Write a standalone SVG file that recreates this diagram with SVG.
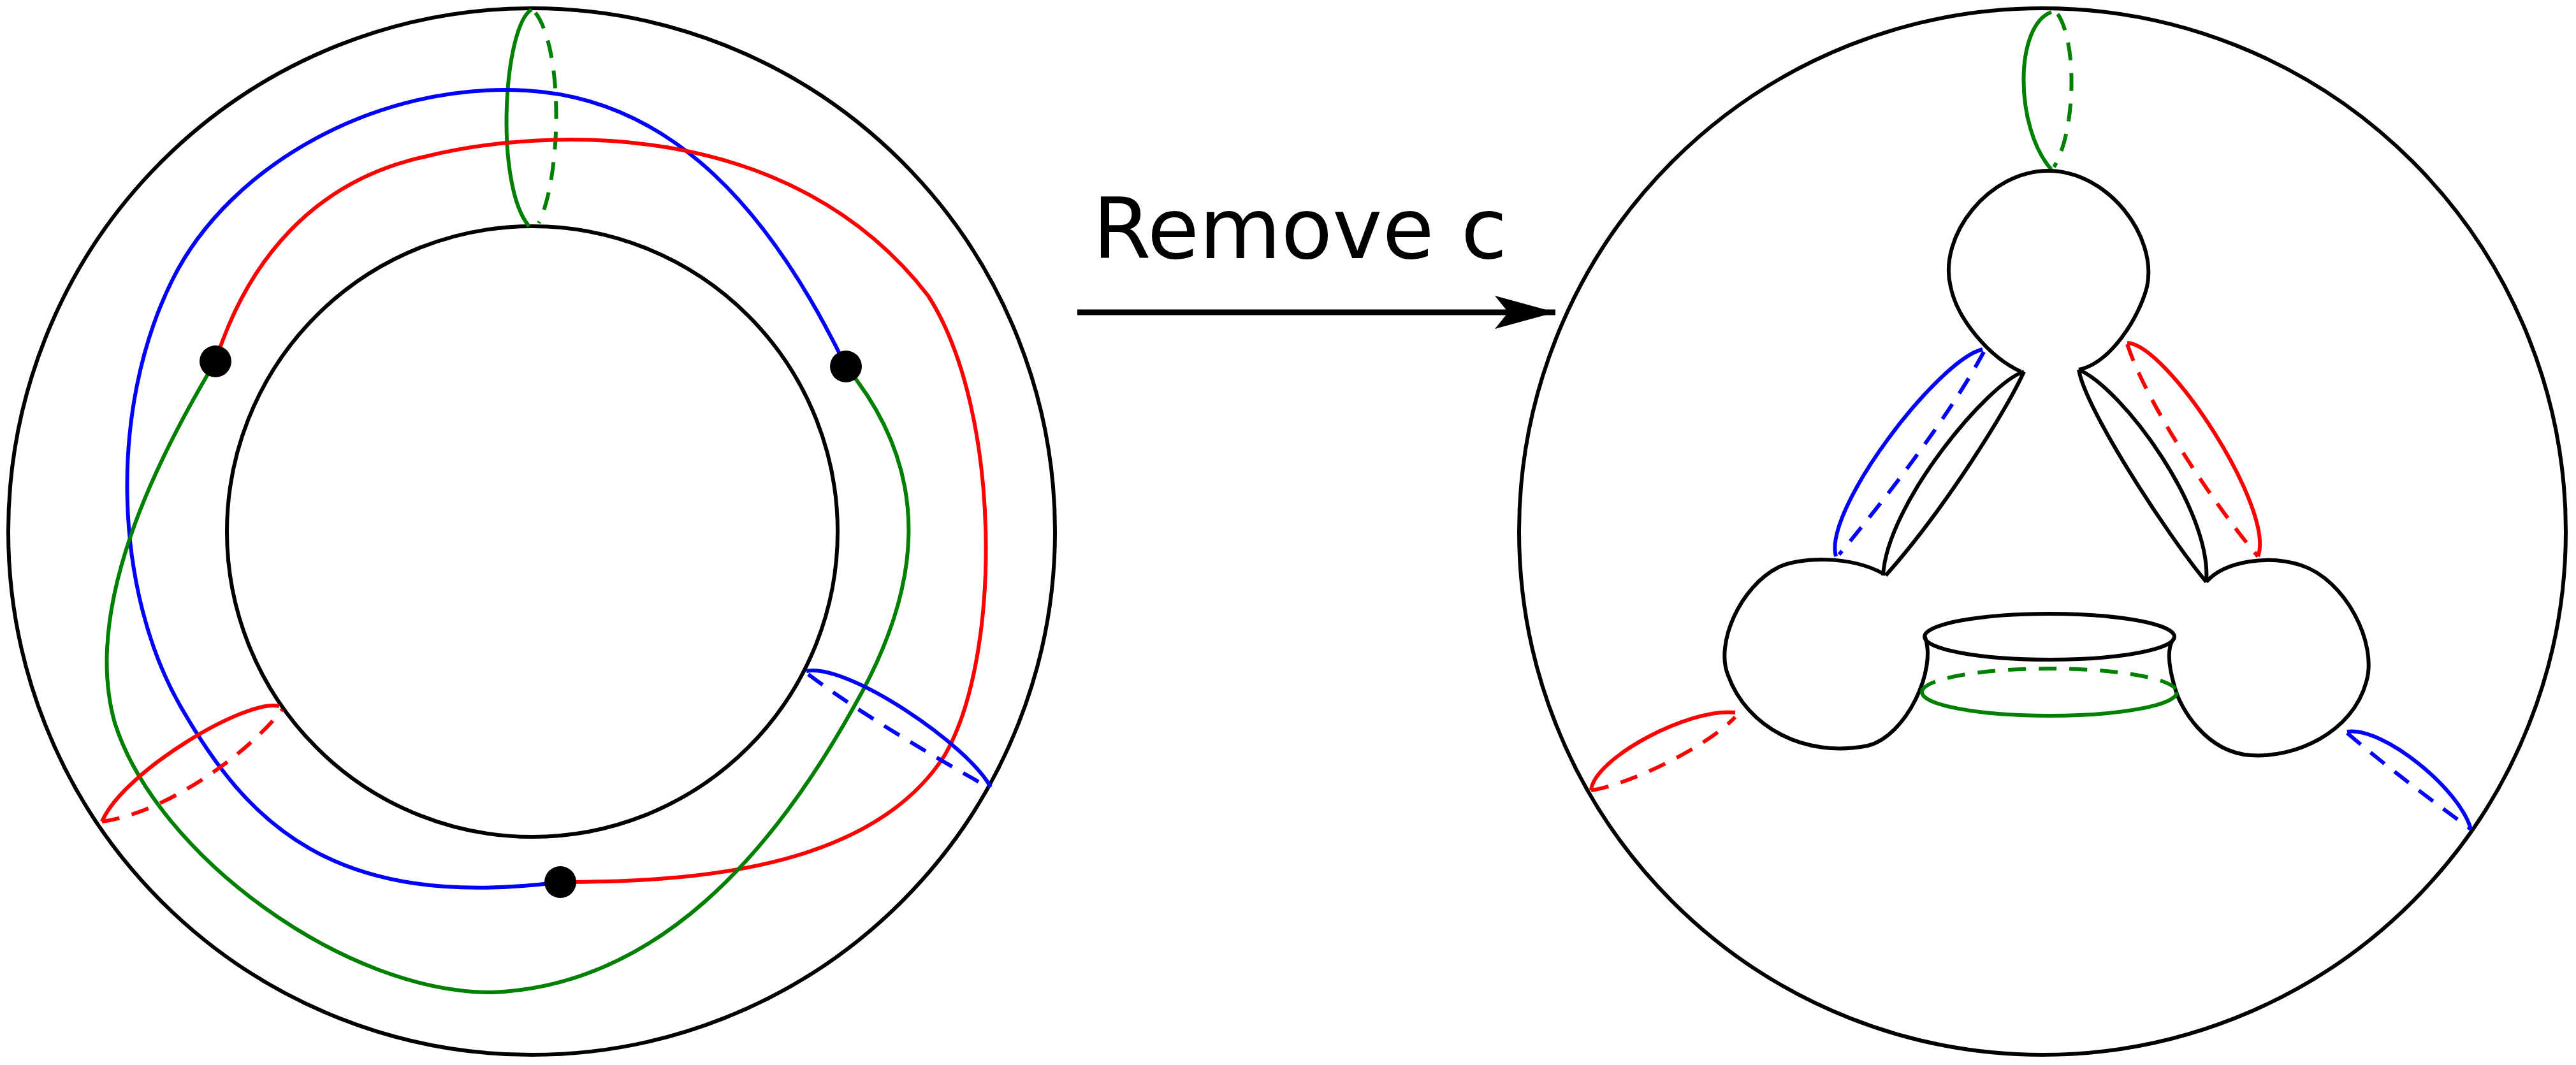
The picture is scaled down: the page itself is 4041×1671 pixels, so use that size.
<svg xmlns="http://www.w3.org/2000/svg" width="4041" height="1671" viewBox="0 0 4041 1671">
<style>
.k{fill:none;stroke:#000;stroke-width:6}
.s{fill:none;stroke-width:6}
.d{fill:none;stroke-width:6;stroke-dasharray:28 20}
.r{stroke:#f00}.g{stroke:#008000}.b{stroke:#00f}
.dot{fill:#000}
</style>
<defs><marker id="ah" markerUnits="userSpaceOnUse" markerWidth="100" markerHeight="60" refX="95" refY="30" orient="auto"><path d="M0,4 L95,30 L0,56 L21,30 Z" fill="#000"/></marker></defs>
<g id="left">
<circle class="k" cx="834" cy="834" r="821"/>
<circle class="k" cx="835" cy="834" r="479"/>
<path class="s g" d="M834,15 C790,40 775,290 830,355"/>
<path class="d g" d="M840,20 C885,80 880,280 845,350"/>
<path class="s b" d="M1327,575 C1211,335 1057,155 825,142 C593,129 361,258 271,438 C168,644 180,928 283,1108 C387,1289 520,1430 879,1384"/>
<path class="s r" d="M338,567 C387,412 490,283 670,245 C850,201 1237,180 1456,464 C1572,644 1572,1031 1482,1185 C1366,1366 1082,1384 879,1384"/>
<path class="s g" d="M338,567 C245,722 129,953 180,1134 C245,1340 541,1559 773,1557 C1031,1546 1211,1340 1340,1108 C1443,928 1469,747 1327,575"/>
<path class="s r" d="M160,1289 C193,1211 387,1095 438,1108"/>
<path class="d r" d="M160,1289 C258,1276 387,1185 443,1113"/>
<path class="s b" d="M1265,1053 C1330,1040 1520,1170 1554,1235"/>
<path class="d b" d="M1268,1058 C1350,1120 1470,1190 1550,1235"/>
<circle class="dot" cx="338" cy="567" r="25"/>
<circle class="dot" cx="1327" cy="575" r="25"/>
<circle class="dot" cx="879" cy="1384" r="25"/>
</g>
<g id="arrow">
<text x="1714" y="405" font-family="DejaVu Sans, sans-serif" font-size="132">Remove c</text>
<line x1="1690" y1="490" x2="2440" y2="490" stroke="#000" stroke-width="9" marker-end="url(#ah)"/>
</g>
<g id="right">
<circle class="k" cx="3204" cy="834" r="821"/>
<path class="s g" d="M3218,19 C3160,40 3160,200 3218,266"/>
<path class="d g" d="M3228,22 C3260,70 3255,210 3222,262"/>
<path class="k" d="M3170,583 C3120,560 3070,500 3060,450 C3040,370 3120,268 3213,268 C3306,268 3385,370 3368,450 C3355,500 3310,570 3261,580"/>
<path class="k" d="M3175,583 C3150,640 3050,800 2958,903 M3175,583 C3120,600 2960,790 2954,903"/>
<path class="k" d="M3261,580 C3270,640 3400,840 3461,913 M3261,580 C3330,610 3470,800 3461,913"/>
<path class="k" d="M2954,900 C2900,870 2820,875 2790,890 C2730,920 2690,1010 2711,1060 C2740,1140 2830,1190 2930,1170 C2990,1155 3040,1050 3019,997"/>
<path class="k" d="M3461,913 C3490,880 3560,870 3610,887 C3680,910 3730,1010 3712,1070 C3690,1150 3600,1190 3530,1185 C3460,1180 3420,1110 3412,1080 C3400,1040 3400,1015 3410,1002"/>
<ellipse class="k" cx="3215" cy="999" rx="196" ry="36"/>
<path class="s g" d="M3015,1086 A200,37 0 0 0 3415,1086"/>
<path class="d g" d="M3015,1086 A200,37 0 0 1 3415,1086"/>
<path class="s b" d="M3110,548 C3040,565 2860,800 2880,873"/>
<path class="d b" d="M3112,552 C3060,650 2960,780 2885,870"/>
<path class="s r" d="M3337,538 C3400,540 3570,800 3542,873"/>
<path class="d r" d="M3337,540 C3370,640 3480,800 3542,873"/>
<path class="s r" d="M2496,1240 C2500,1190 2650,1110 2722,1118"/>
<path class="d r" d="M2496,1240 C2560,1230 2680,1170 2722,1125"/>
<path class="s b" d="M3682,1148 C3740,1140 3860,1240 3876,1301"/>
<path class="d b" d="M3682,1150 C3740,1200 3820,1260 3876,1301"/>
</g>
</svg>
